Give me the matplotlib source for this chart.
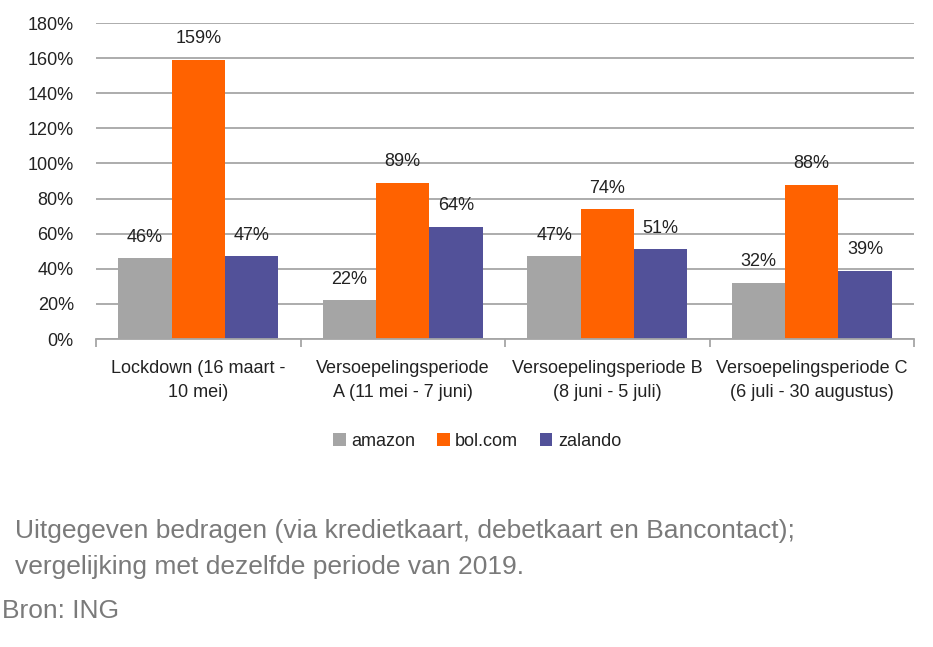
import matplotlib
matplotlib.use("Agg")
import matplotlib.pyplot as plt
import numpy as np

categories = ["Lockdown (16 maart -\n10 mei)",
              "Versoepelingsperiode\nA (11 mei - 7 juni)",
              "Versoepelingsperiode B\n(8 juni - 5 juli)",
              "Versoepelingsperiode C\n(6 juli - 30 augustus)"]
series_names = ["amazon", "bol.com", "zalando"]
amazon = [46, 22, 47, 32]
bolcom = [159, 89, 74, 88]
zalando = [47, 64, 51, 39]
colors = ["#A5A5A5", "#FF6200", "#525199"]
yticks = [0, 20, 40, 60, 80, 100, 120, 140, 160, 180]

plt.rcParams['font.family'] = ['Liberation Sans', 'DejaVu Sans']

W, H = 933, 647
fig = plt.figure(figsize=(W / 100, H / 100), dpi=100)
L, R, T, B = 96, 914, 23, 339
ax = fig.add_axes([L / W, 1 - B / H, (R - L) / W, (B - T) / H])

x = np.arange(len(categories))
bw = 0.26
data = [amazon, bolcom, zalando]
for i, (vals, c, name) in enumerate(zip(data, colors, series_names)):
    pos = x + (i - 1) * bw
    ax.bar(pos, vals, width=bw, color=c, label=name, zorder=3)
    for p, v in zip(pos, vals):
        ax.annotate(f"{v}%", (p, v), xytext=(0, 9), textcoords="offset points",
                    ha="center", va="bottom", fontsize=13, color="#222222", zorder=4)

ax.set_xlim(-0.5, len(categories) - 0.5)
ax.set_ylim(0, 180)
ax.set_yticks(yticks)
ax.set_yticklabels([f"{t}%" for t in yticks], fontsize=13, color="#222222")
ax.yaxis.grid(True, color="#A6A6A6", linewidth=1.3, zorder=0)
ax.tick_params(axis="y", length=0, pad=16)
for s in ["top", "right", "left"]:
    ax.spines[s].set_visible(False)
ax.spines["bottom"].set_color("#A6A6A6")
ax.spines["bottom"].set_linewidth(1.3)
ax.spines["bottom"].set_zorder(5)

ax.set_xticks(x)
ax.set_xticklabels(categories, fontsize=13, color="#222222", linespacing=1.55)
ax.tick_params(axis="x", length=0, pad=15)
ax.set_xticks(np.arange(-0.5, len(categories), 1), minor=True)
ax.tick_params(axis="x", which="minor", length=6, color="#A6A6A6", width=1.3, direction="out")

leg = ax.legend(loc="upper center", bbox_to_anchor=(0.466, -0.245), ncol=3, frameon=False,
                fontsize=13, handlelength=0.7, handleheight=0.7, handletextpad=0.3,
                columnspacing=1.2)
for t in leg.get_texts():
    t.set_color("#222222")

gray = "#7A7A7A"
fig.text(15 / W, 1 - 531 / H, "Uitgegeven bedragen (via kredietkaart, debetkaart en Bancontact);",
         fontsize=19, color=gray, ha="left", va="center")
fig.text(15 / W, 1 - 567 / H, "vergelijking met dezelfde periode van 2019.",
         fontsize=19, color=gray, ha="left", va="center")
fig.text(2 / W, 1 - 611 / H, "Bron: ING", fontsize=19, color=gray, ha="left", va="center")

fig.savefig("out.png", dpi=100)
